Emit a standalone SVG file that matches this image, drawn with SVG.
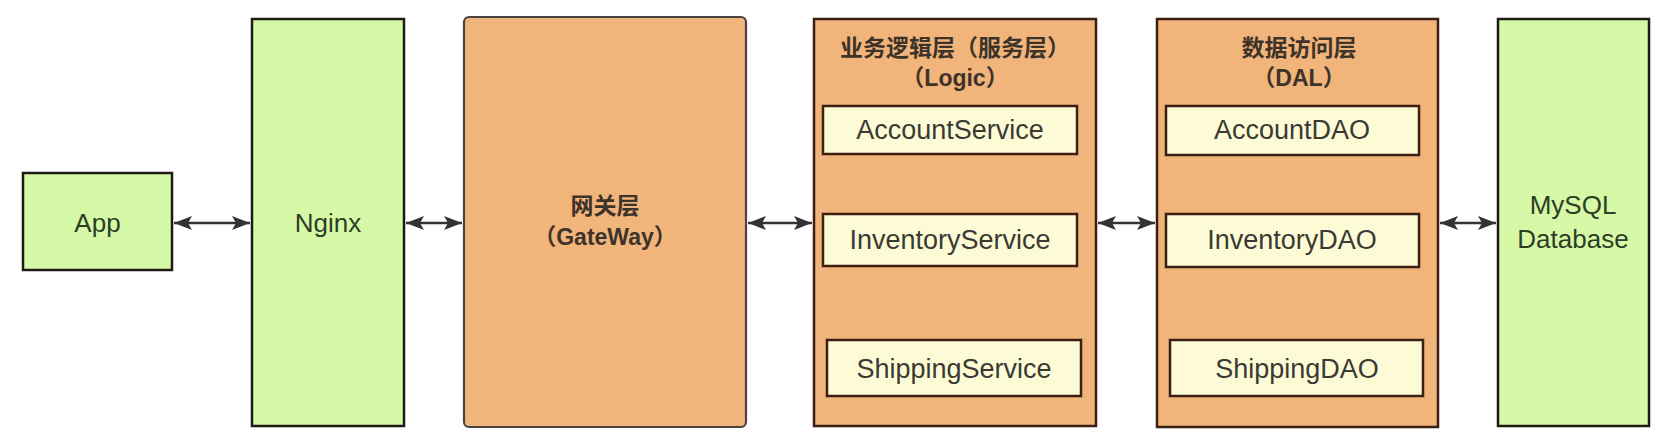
<svg xmlns="http://www.w3.org/2000/svg" width="1666" height="440" viewBox="0 0 1666 440">
  <style>
    .green { fill: #d6f9a8; stroke: #1e1a14; stroke-width: 2.5; }
    .orange { fill: #f1b47b; stroke: #3a1f12; stroke-width: 2.5; }
    .gw { fill: #f1b47b; stroke: #4a4440; stroke-width: 2.2; }
    .cream { fill: #fdfbd6; stroke: #3a1f12; stroke-width: 2.5; }
    .lbl { font-family: "Liberation Sans", Arial, "Noto Sans CJK SC", sans-serif; font-size: 26px; text-anchor: middle; }
    .big { font-size: 27px; }
    .glbl { fill: #2e3d25; }
    .clbl { fill: #3a3a32; }
    .title { font-family: "Liberation Sans", Arial, "Noto Sans CJK SC", sans-serif; font-size: 23px; font-weight: bold; text-anchor: middle; fill: #3d3329; }
    .conn { stroke: #333333; stroke-width: 2.5; fill: none; marker-start: url(#ah); marker-end: url(#ah); }
  </style>
  <defs>
    <marker id="ah" viewBox="0 0 18 14" refX="18" refY="7" markerWidth="18" markerHeight="14" markerUnits="userSpaceOnUse" orient="auto-start-reverse">
      <path d="M0,0 L18,7 L0,14 L4,7 Z" fill="#333333"/>
    </marker>
  </defs>
  <rect width="1666" height="440" fill="#ffffff"/>

  <g id="app">
    <rect class="green" x="23" y="173" width="149" height="97"/>
    <text class="lbl glbl" x="97.5" y="232">App</text>
  </g>
  <g id="nginx">
    <rect class="green" x="252" y="19" width="152" height="407"/>
    <text class="lbl glbl" x="328" y="232">Nginx</text>
  </g>
  <g id="gateway">
    <rect class="gw" x="464" y="17" width="282" height="410" rx="5" ry="5"/>
    <text class="title" x="605" y="214">网关层</text>
    <text class="title" x="605" y="245">（GateWay）</text>
  </g>
  <g id="logic">
    <rect class="orange" x="814" y="19" width="282" height="407"/>
    <text class="title" x="955" y="56">业务逻辑层（服务层）</text>
    <text class="title" x="955" y="86">（Logic）</text>
    <g id="account-service">
      <rect class="cream" x="823" y="106" width="254" height="48"/>
      <text class="lbl big clbl" x="950" y="139">AccountService</text>
    </g>
    <g id="inventory-service">
      <rect class="cream" x="823" y="214" width="254" height="52"/>
      <text class="lbl big clbl" x="950" y="249">InventoryService</text>
    </g>
    <g id="shipping-service">
      <rect class="cream" x="827" y="340" width="254" height="56"/>
      <text class="lbl big clbl" x="954" y="378">ShippingService</text>
    </g>
  </g>
  <g id="dal">
    <rect class="orange" x="1157" y="19" width="281" height="408"/>
    <text class="title" x="1299" y="56">数据访问层</text>
    <text class="title" x="1299" y="86">（DAL）</text>
    <g id="account-dao">
      <rect class="cream" x="1166" y="106" width="253" height="49"/>
      <text class="lbl big clbl" x="1292" y="139">AccountDAO</text>
    </g>
    <g id="inventory-dao">
      <rect class="cream" x="1166" y="214" width="253" height="53"/>
      <text class="lbl big clbl" x="1292" y="249">InventoryDAO</text>
    </g>
    <g id="shipping-dao">
      <rect class="cream" x="1170" y="340" width="253" height="56"/>
      <text class="lbl big clbl" x="1297" y="378">ShippingDAO</text>
    </g>
  </g>
  <g id="mysql">
    <rect class="green" x="1498" y="19" width="151" height="407"/>
    <text class="lbl glbl" x="1573" y="214">MySQL</text>
    <text class="lbl glbl" x="1573" y="248">Database</text>
  </g>

  <g id="connectors">
    <line class="conn" x1="174" y1="223" x2="250" y2="223"/>
    <line class="conn" x1="406" y1="223" x2="462" y2="223"/>
    <line class="conn" x1="748" y1="223" x2="812" y2="223"/>
    <line class="conn" x1="1098" y1="223" x2="1155" y2="223"/>
    <line class="conn" x1="1440" y1="223" x2="1496" y2="223"/>
  </g>
</svg>
